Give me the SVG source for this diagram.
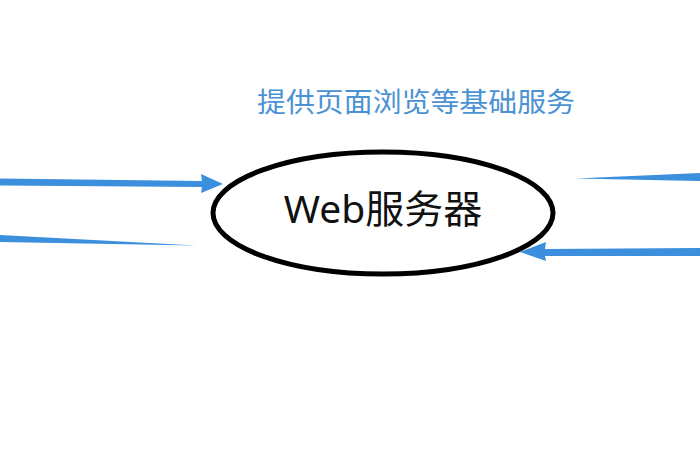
<svg xmlns="http://www.w3.org/2000/svg" width="700" height="470" viewBox="0 0 700 470">
<style>
.lbl{font-family:"Microsoft YaHei","Noto Sans","Noto Sans CJK SC",sans-serif;}
.flow{fill:#3b8fdc;}
</style>
<rect width="700" height="470" fill="#ffffff"/>
<g id="connectors">
<path class="flow" d="M0,178.5 L202,181 L201,174 L223,184 L201,193 L202,187 L0,185.5 Z"/>
<path class="flow" d="M0,235 L196,245.5 L0,242 Z"/>
<path class="flow" d="M575,178.5 L700,173 L700,181 Z"/>
<path class="flow" d="M700,248 L545,249 L546,242 L520,252 L546,261 L545,256 L700,256 Z"/>
</g>
<g id="web-server">
<ellipse cx="383" cy="213" rx="170" ry="61" fill="#ffffff" stroke="#000000" stroke-width="5"/>
<text class="lbl" x="383" y="223" text-anchor="middle" font-size="39" fill="#111111">Web服务器</text>
</g>
<g id="label">
<text class="lbl" x="416" y="112" text-anchor="middle" font-size="27" fill="#4a92d4" textLength="318" lengthAdjust="spacingAndGlyphs">提供页面浏览等基础服务</text>
</g>
</svg>
